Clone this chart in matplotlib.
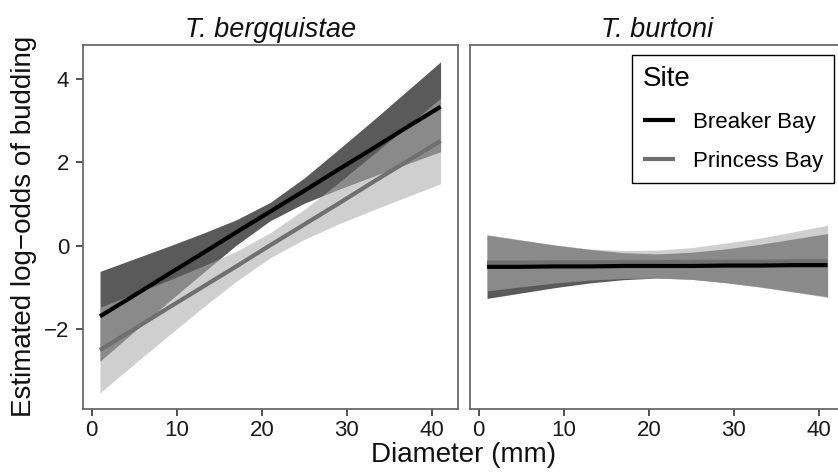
import matplotlib
matplotlib.use("Agg")
import matplotlib.pyplot as plt

plt.rcParams['font.family'] = ['Liberation Sans', 'DejaVu Sans']

# ---- data ----
species = ["T. bergquistae", "T. burtoni"]
sites = ["Breaker Bay", "Princess Bay"]
diam = [1, 5, 9, 13, 17, 21, 25, 29, 33, 37, 41]

# T. bergquistae
berg_bb_fit = [-1.70, -1.20, -0.69, -0.19, 0.32, 0.82, 1.32, 1.83, 2.33, 2.84, 3.34]
berg_bb_lo = [-2.78, -2.07, -1.36, -0.67, 0.01, 0.60, 1.02, 1.35, 1.66, 1.96, 2.26]
berg_bb_hi = [-0.62, -0.32, -0.02, 0.29, 0.62, 1.04, 1.63, 2.31, 3.00, 3.71, 4.42]
berg_pb_fit = [-2.51, -2.01, -1.50, -1.00, -0.50, 0.01, 0.51, 1.01, 1.52, 2.02, 2.52]
berg_pb_lo = [-3.54, -2.85, -2.17, -1.50, -0.86, -0.29, 0.15, 0.52, 0.85, 1.17, 1.49]
berg_pb_hi = [-1.48, -1.16, -0.84, -0.50, -0.14, 0.31, 0.87, 1.51, 2.18, 2.86, 3.55]

# T. burtoni
burt_bb_fit = [-0.51, -0.51, -0.50, -0.50, -0.49, -0.49, -0.49, -0.48, -0.48, -0.47, -0.47]
burt_bb_lo = [-1.27, -1.14, -1.01, -0.90, -0.82, -0.78, -0.81, -0.89, -0.99, -1.11, -1.23]
burt_bb_hi = [0.25, 0.13, 0.01, -0.09, -0.17, -0.20, -0.16, -0.08, 0.03, 0.16, 0.29]
burt_pb_fit = [-0.41, -0.41, -0.40, -0.40, -0.40, -0.40, -0.39, -0.39, -0.39, -0.38, -0.38]
burt_pb_lo = [-1.09, -0.99, -0.90, -0.83, -0.79, -0.78, -0.81, -0.89, -1.00, -1.12, -1.25]
burt_pb_hi = [0.27, 0.14, 0.02, -0.08, -0.12, -0.11, -0.05, 0.06, 0.18, 0.33, 0.49]

x_ticks = [0, 10, 20, 30, 40]
y_ticks = [-2, 0, 2, 4]

panels = [
    (berg_bb_fit, berg_bb_lo, berg_bb_hi, berg_pb_fit, berg_pb_lo, berg_pb_hi),
    (burt_bb_fit, burt_bb_lo, burt_bb_hi, burt_pb_fit, burt_pb_lo, burt_pb_hi),
]

# ---- styling ----
W, H = 838, 472
fig = plt.figure(figsize=(W / 100, H / 100), dpi=100)
ax_w = 374.6 / W
ax_h = 364 / H
ax_b = 63 / H
axes = [fig.add_axes([83 / W, ax_b, ax_w, ax_h]),
        fig.add_axes([470 / W, ax_b, ax_w, ax_h])]

bb_fill = "#5a5a5a"
pb_fill = "#adadad"
pb_alpha = 0.58
bb_line = "black"
pb_line = "#6f6f6f"

handles = None
for i, (ax, data) in enumerate(zip(axes, panels)):
    bfit, blo, bhi, pfit, plo, phi = data
    ax.fill_between(diam, blo, bhi, color=bb_fill, linewidth=0, zorder=1)
    ax.fill_between(diam, plo, phi, color=pb_fill, alpha=pb_alpha, linewidth=0, zorder=2)
    lp, = ax.plot(diam, pfit, color=pb_line, lw=3.0, solid_capstyle='butt', zorder=3, label=sites[1])
    lb, = ax.plot(diam, bfit, color=bb_line, lw=3.0, solid_capstyle='butt', zorder=4, label=sites[0])
    if handles is None:
        handles = [lb, lp]
    ax.set_xlim(-1, 43)
    ax.set_ylim(-3.93, 4.825)
    ax.set_xticks(x_ticks)
    ax.set_yticks(y_ticks)
    ax.set_yticklabels(["\u22122", "0", "2", "4"])
    for s in ax.spines.values():
        s.set_color("#5e5e5e")
        s.set_linewidth(1.2)
    ax.tick_params(axis='both', colors="#333333", length=5, width=1.2,
                   labelsize=16, labelcolor="#1a1a1a")
    ax.tick_params(axis='x', pad=3)
    ax.tick_params(axis='y', pad=5)
    if i == 1:
        ax.tick_params(axis='y', left=False, labelleft=False)
    ax.set_title(species[i], fontstyle='italic', fontsize=19.5, pad=6, color="#111111")

fig.text(464 / W, 1 - 455 / H, "Diameter (mm)", ha='center', va='center', fontsize=20, color="#111111")
fig.text(24 / W, 1 - 226 / H, "Estimated log\u2212odds of budding", ha='center', va='center',
         rotation=90, fontsize=20, color="#111111")

leg = axes[1].legend(handles=handles, labels=sites, title="Site", loc='upper right',
                     bbox_to_anchor=(834 / W, 1 - 55 / H), bbox_transform=fig.transFigure,
                     frameon=True, fancybox=False, edgecolor='black', framealpha=1,
                     borderaxespad=0, fontsize=16, title_fontsize=20, alignment='left',
                     handlelength=1.45, handletextpad=0.8, labelspacing=0.82, borderpad=0.5)
leg.get_frame().set_linewidth(1.0)
leg._legend_box.sep = 14

fig.savefig("out.png", dpi=100)
